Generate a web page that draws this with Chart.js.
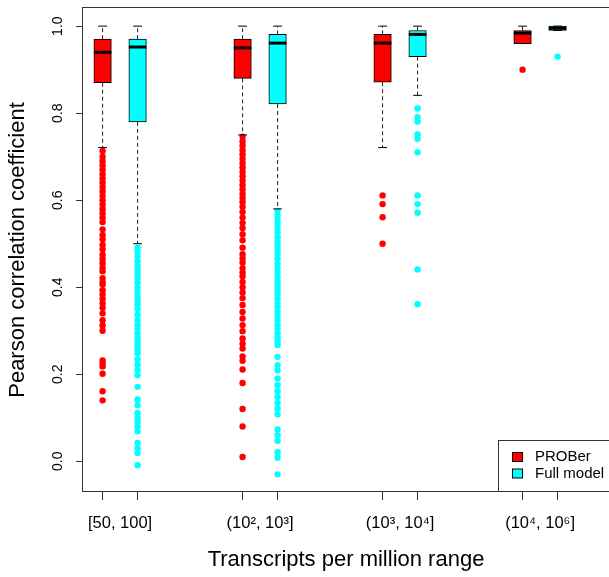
<!DOCTYPE html>
<html>
<head>
<meta charset="utf-8">
<script src="https://cdn.jsdelivr.net/npm/chart.js@4.4.0/dist/chart.umd.min.js"></script>
<style>
    body { margin: 0; background: #fff; }
    canvas { display: block; }
</style>
</head>
<body>
<canvas id="grafico" width="609" height="577"></canvas>
<script>
const posicoes_prober = [1, 5, 9, 13];
const posicoes_full = [2, 6, 10, 14];
const posicoes_rotulos = [1.5, 5.5, 9.5, 13.5];
const rotulos_faixas = ['[50, 100]', '(10², 10³]', '(10³, 10⁴]', '(10⁴, 10⁶]'];
const ticks_y = [0, 0.2, 0.4, 0.6, 0.8, 1.0];

const cor_prober = '#FF0000';
const cor_full = '#00FFFF';

/* CAIXAS PROBER: bigode inferior, Q1, mediana, Q3, bigode superior */
const prober_inferior = [0.721, 0.750, 0.721, 0.960];
const prober_q1 = [0.870, 0.880, 0.871, 0.960];
const prober_mediana = [0.940, 0.950, 0.961, 0.984];
const prober_q3 = [0.970, 0.970, 0.981, 0.990];
const prober_superior = [1.0, 1.0, 1.0, 1.0];

/* CAIXAS FULL MODEL */
const full_inferior = [0.500, 0.580, 0.841, 0.990];
const full_q1 = [0.780, 0.821, 0.930, 0.990];
const full_mediana = [0.952, 0.961, 0.981, 0.995];
const full_q3 = [0.970, 0.981, 0.990, 1.0];
const full_superior = [1.0, 1.0, 1.0, 1.0];

/* OUTLIERS */
const outliers_prober_1 = [0.713, 0.70, 0.69, 0.68, 0.67, 0.66, 0.65, 0.64, 0.63, 0.62, 0.61, 0.60, 0.59, 0.58, 0.57, 0.56, 0.55,
    0.533, 0.52, 0.51, 0.497, 0.487, 0.475, 0.465, 0.455, 0.445, 0.437, 0.421, 0.412, 0.406, 0.393, 0.383, 0.373, 0.363,
    0.353, 0.340, 0.324, 0.312, 0.300, 0.232, 0.225, 0.218, 0.201, 0.161, 0.140];
const outliers_prober_2 = [0.746, 0.735, 0.725, 0.715, 0.705, 0.695, 0.685, 0.675, 0.665, 0.655, 0.645, 0.635, 0.625, 0.615,
    0.605, 0.596, 0.585, 0.573, 0.56, 0.548, 0.536, 0.522, 0.508, 0.491, 0.476, 0.466, 0.457, 0.444, 0.434, 0.425, 0.412,
    0.40, 0.388, 0.375, 0.359, 0.343, 0.328, 0.313, 0.299, 0.282, 0.27, 0.259, 0.241, 0.231, 0.211, 0.180, 0.120, 0.080, 0.010];
const outliers_prober_3 = [0.611, 0.591, 0.561, 0.500];
const outliers_prober_4 = [0.900];

const outliers_full_1 = [0.491, 0.48, 0.47, 0.46, 0.45, 0.44, 0.43, 0.42, 0.41, 0.40, 0.39, 0.38, 0.37, 0.36, 0.35, 0.336,
    0.324, 0.314, 0.304, 0.294, 0.284, 0.274, 0.264, 0.256, 0.248, 0.234, 0.222, 0.21, 0.198, 0.171, 0.142, 0.129, 0.111,
    0.10, 0.09, 0.08, 0.069, 0.042, 0.03, 0.019, -0.009];
const outliers_full_2 = [0.575, 0.565, 0.555, 0.545, 0.535, 0.525, 0.515, 0.505, 0.495, 0.485, 0.475, 0.466, 0.454, 0.444,
    0.434, 0.424, 0.414, 0.404, 0.394, 0.384, 0.374, 0.364, 0.354, 0.344, 0.334, 0.324, 0.314, 0.304, 0.294, 0.284, 0.276,
    0.267, 0.240, 0.221, 0.209, 0.190, 0.175, 0.161, 0.148, 0.134, 0.121, 0.108, 0.073, 0.06, 0.047, 0.021, 0.008, -0.030];
const outliers_full_3 = [0.811, 0.791, 0.781, 0.751, 0.741, 0.710, 0.611, 0.591, 0.571, 0.441, 0.361];
const outliers_full_4 = [0.930];

const outliers_prober = [outliers_prober_1, outliers_prober_2, outliers_prober_3, outliers_prober_4];
const outliers_full = [outliers_full_1, outliers_full_2, outliers_full_3, outliers_full_4];

const legenda_nomes = ['PROBer', 'Full model'];
const legenda_cores = [cor_prober, cor_full];

Chart.defaults.font.family = "'Liberation Sans', Arial, sans-serif";
Chart.defaults.color = '#000';

function dados_caixa(posicoes, q1, q3) {
    return posicoes.map((x, i) => ({ x: x, y: [q1[i], q3[i]] }));
}

function dados_mediana(posicoes, mediana) {
    return posicoes.map((x, i) => ({ x: x, y: mediana[i] }));
}

// bigodes: um segmento acima e outro abaixo de cada caixa, separados por null
function dados_bigodes(posicoes, inferior, q1, q3, superior) {
    const pontos = [];
    posicoes.forEach((x, i) => {
        pontos.push({ x: x, y: q3[i] }, { x: x, y: superior[i] }, { x: x, y: null });
        pontos.push({ x: x, y: q1[i] }, { x: x, y: inferior[i] }, { x: x, y: null });
    });
    return pontos;
}

function dados_extremos(posicoes, inferior, superior) {
    const pontos = [];
    posicoes.forEach((x, i) => {
        pontos.push({ x: x, y: inferior[i] }, { x: x, y: superior[i] });
    });
    return pontos;
}

function dados_outliers(posicoes, grupos) {
    const pontos = [];
    posicoes.forEach((x, i) => {
        grupos[i].forEach(v => pontos.push({ x: x, y: v }));
    });
    return pontos;
}

const ticks_x = [...posicoes_prober, ...posicoes_full, ...posicoes_rotulos].sort((a, b) => a - b);

const dataset_caixa = (label, dados, cor) => ({
    type: 'bar',
    label: label,
    data: dados,
    backgroundColor: cor,
    borderColor: '#000',
    borderWidth: 1,
    borderSkipped: false,
    barThickness: 17.5,
    grouped: false,
    order: 2
});

const dataset_mediana = (dados) => ({
    type: 'scatter',
    data: dados,
    pointStyle: 'line',
    pointRadius: 8.75,
    pointBorderWidth: 3,
    pointBorderColor: '#000',
    order: 0
});

const dataset_bigodes = (dados) => ({
    type: 'line',
    data: dados,
    borderColor: '#222',
    borderWidth: 1,
    borderDash: [4, 3],
    pointRadius: 0,
    spanGaps: false,
    order: 3
});

const dataset_extremos = (dados) => ({
    type: 'scatter',
    data: dados,
    pointStyle: 'line',
    pointRadius: 4.4,
    pointBorderWidth: 1,
    pointBorderColor: '#000',
    order: 1
});

const dataset_outliers = (dados, cor) => ({
    type: 'scatter',
    data: dados,
    pointStyle: 'circle',
    pointRadius: 3.2,
    pointBorderWidth: 0,
    pointBackgroundColor: cor,
    order: 4
});

/* moldura do gráfico e legenda no canto inferior direito */
const plugin_moldura = {
    id: 'moldura',
    afterDraw(chart) {
        const ctx = chart.ctx;
        const area = chart.chartArea;
        ctx.save();
        ctx.strokeStyle = '#333';
        ctx.lineWidth = 1;
        ctx.strokeRect(area.left - 0.5, area.top - 0.5, area.right - area.left + 4, area.bottom - area.top);

        const caixa_esq = 498.5;
        const caixa_topo = 440.5;
        ctx.fillStyle = '#fff';
        ctx.fillRect(caixa_esq, caixa_topo, area.right - caixa_esq + 4, area.bottom - 0.5 - caixa_topo);
        ctx.strokeRect(caixa_esq, caixa_topo, area.right - caixa_esq + 4, area.bottom - 0.5 - caixa_topo);

        ctx.font = "15px 'Liberation Sans', Arial, sans-serif";
        ctx.textBaseline = 'middle';
        ctx.textAlign = 'left';
        legenda_nomes.forEach((nome, i) => {
            const y = 457 + i * 16.5;
            ctx.fillStyle = legenda_cores[i];
            ctx.fillRect(512.5, y - 4.5, 10, 9);
            ctx.strokeStyle = '#000';
            ctx.strokeRect(512.5, y - 4.5, 10, 9);
            ctx.fillStyle = '#000';
            ctx.fillText(nome, 535, y);
        });
        ctx.restore();
    }
};

const config_grafico = {
    type: 'bar',
    data: {
        datasets: [
            dataset_mediana(dados_mediana(posicoes_prober, prober_mediana)),
            dataset_mediana(dados_mediana(posicoes_full, full_mediana)),
            dataset_extremos(dados_extremos(posicoes_prober, prober_inferior, prober_superior)),
            dataset_extremos(dados_extremos(posicoes_full, full_inferior, full_superior)),
            dataset_caixa('PROBer', dados_caixa(posicoes_prober, prober_q1, prober_q3), cor_prober),
            dataset_caixa('Full model', dados_caixa(posicoes_full, full_q1, full_q3), cor_full),
            dataset_bigodes(dados_bigodes(posicoes_prober, prober_inferior, prober_q1, prober_q3, prober_superior)),
            dataset_bigodes(dados_bigodes(posicoes_full, full_inferior, full_q1, full_q3, full_superior)),
            dataset_outliers(dados_outliers(posicoes_prober, outliers_prober), cor_prober),
            dataset_outliers(dados_outliers(posicoes_full, outliers_full), cor_full)
        ]
    },
    options: {
        responsive: false,
        animation: false,
        events: [],
        layout: { autoPadding: false, padding: { top: 8, left: 0, right: 0, bottom: 0 } },
        scales: {
            x: {
                type: 'linear',
                min: 0.44,
                max: 15.47,
                offset: false,
                afterBuildTicks: (eixo) => { eixo.ticks = ticks_x.map(v => ({ value: v })); },
                afterFit: (eixo) => { eixo.height = 85; eixo.paddingLeft = 0; eixo.paddingRight = 0; },
                grid: {
                    offset: false,
                    drawOnChartArea: false,
                    drawTicks: true,
                    tickLength: 8,
                    color: (c) => (c.tick && posicoes_rotulos.includes(c.tick.value)) ? 'rgba(0,0,0,0)' : '#333'
                },
                border: { display: false },
                ticks: {
                    autoSkip: false,
                    minRotation: 0,
                    maxRotation: 0,
                    padding: 14,
                    font: { size: 16.5 },
                    callback: (valor) => {
                        const i = posicoes_rotulos.indexOf(valor);
                        return i >= 0 ? rotulos_faixas[i] : '';
                    }
                },
                title: {
                    display: true,
                    text: 'Transcripts per million range',
                    font: { size: 22 },
                    padding: { top: 0, bottom: 4 }
                }
            },
            y: {
                min: -0.0706,
                max: 1.0417,
                afterBuildTicks: (eixo) => { eixo.ticks = ticks_y.map(v => ({ value: v })); },
                afterFit: (eixo) => { eixo.width = 83; eixo.paddingTop = 0; eixo.paddingBottom = 0; },
                grid: {
                    drawOnChartArea: false,
                    drawTicks: true,
                    tickLength: 7,
                    color: '#333'
                },
                border: { display: false },
                ticks: {
                    minRotation: 90,
                    maxRotation: 90,
                    crossAlign: 'center',
                    padding: 8,
                    font: { size: 14 },
                    callback: (valor) => valor.toFixed(1)
                },
                title: {
                    display: true,
                    text: 'Pearson correlation coefficient',
                    font: { size: 22 },
                    padding: { top: 5, bottom: 0 }
                }
            }
        },
        plugins: {
            legend: { display: false },
            tooltip: { enabled: false }
        }
    },
    plugins: [plugin_moldura]
};

const grafico = new Chart(document.getElementById('grafico'), config_grafico);
</script>
</body>
</html>
